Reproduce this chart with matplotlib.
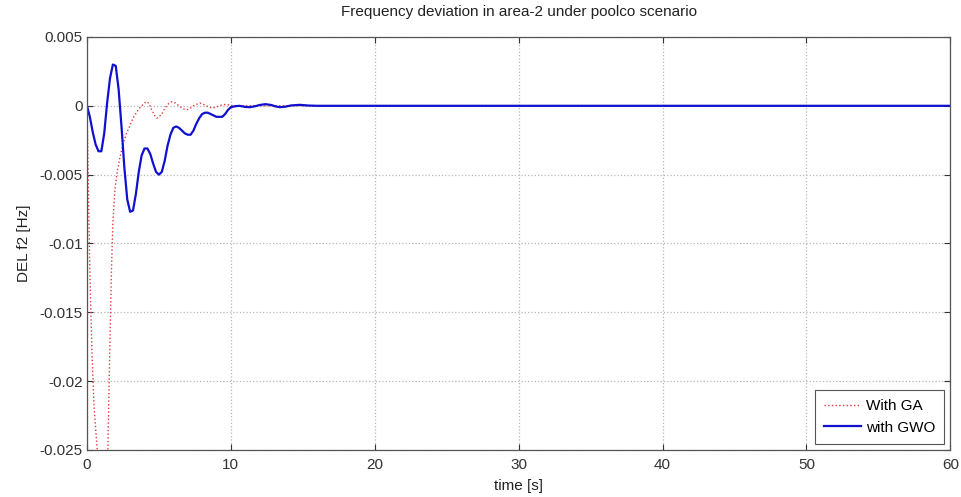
import matplotlib
matplotlib.use('Agg')
import matplotlib.pyplot as plt
import numpy as np

# time [s] and frequency deviation [Hz]
t_ga = [0.0, 0.1, 0.2, 0.35, 0.5, 0.75, 1.0, 1.2, 1.45, 1.6, 1.7, 1.8, 1.95,
        2.1, 2.3, 2.5, 2.75, 3.0, 3.25, 3.5, 3.7, 3.9, 4.1, 4.3, 4.5, 4.7,
        4.85, 5.0, 5.2, 5.4, 5.6, 5.9, 6.15, 6.4, 6.65, 6.9, 7.15, 7.4, 7.6,
        7.85, 8.1, 8.3, 8.5, 8.7, 8.95, 9.2, 9.45, 9.7, 10.0, 10.5, 11.0, 60.0]
f2_ga = [0.0, -0.006, -0.012, -0.018, -0.022, -0.0255, -0.028, -0.028, -0.025,
         -0.017, -0.012, -0.0085, -0.006, -0.0048, -0.0037, -0.0028, -0.002,
         -0.0014, -0.0008, -0.0004, -0.0001, 0.0001, 0.0003, 0.0002, -0.0003,
         -0.0007, -0.0009, -0.0008, -0.0006, -0.0002, 0.0001, 0.0003, 0.0002,
         0.0, -0.0002, -0.0003, -0.0002, 0.0, 0.0001, 0.0002, 0.0001, 0.0,
         -0.0001, -0.00017, -0.0001, 0.0, 0.00008, 0.0001, 0.00003, 0.0, 0.0, 0.0]

t_gwo = [0.0, 0.2, 0.4, 0.6, 0.8, 1.0, 1.2, 1.4, 1.6, 1.8, 2.0, 2.2, 2.4, 2.6,
         2.8, 3.0, 3.2, 3.4, 3.6, 3.8, 4.0, 4.2, 4.4, 4.6, 4.8, 5.0, 5.2, 5.4,
         5.6, 5.8, 6.0, 6.2, 6.4, 6.6, 6.8, 7.0, 7.2, 7.4, 7.6, 7.8, 8.0, 8.2,
         8.4, 8.6, 8.8, 9.0, 9.2, 9.4, 9.6, 9.8, 10.0, 10.3, 10.6, 11.0, 11.3,
         11.7, 12.0, 12.4, 12.8, 13.1, 13.4, 13.8, 14.2, 14.8, 15.4, 16.0, 60.0]
f2_gwo = [0.0, -0.0008, -0.0019, -0.0028, -0.0033, -0.0033, -0.002, 0.0002,
          0.002, 0.003, 0.0029, 0.0012, -0.0015, -0.0045, -0.0068, -0.0077,
          -0.0076, -0.0064, -0.0048, -0.0036, -0.0031, -0.0031, -0.0035,
          -0.0042, -0.0048, -0.005, -0.0048, -0.004, -0.0029, -0.0021,
          -0.0016, -0.0015, -0.0016, -0.0018, -0.002, -0.0021, -0.0021,
          -0.0018, -0.0013, -0.0009, -0.0006, -0.0005, -0.0005, -0.0006,
          -0.0007, -0.0008, -0.0008, -0.0008, -0.0006, -0.0003, -0.0001,
          -0.00003, 0.0, -0.00008, -0.0001, -0.00003, 0.00006, 0.00012,
          0.00006, -0.00004, -0.0001, -0.00006, 0.00003, 0.00007, 0.00002,
          0.0, 0.0]

xticks = [0, 10, 20, 30, 40, 50, 60]
yticks = [-0.025, -0.02, -0.015, -0.01, -0.005, 0, 0.005]
ytick_labels = ['-0.025', '-0.02', '-0.015', '-0.01', '-0.005', '0', '0.005']

plt.rcParams['font.family'] = ['Liberation Sans', 'DejaVu Sans']
plt.rcParams['font.size'] = 11

fig = plt.figure(figsize=(9.62, 4.97), dpi=100)
ax = fig.add_axes([0.0904, 0.0946, 0.8975, 0.831])

ax.plot(t_ga, f2_ga, color='#e03c3c', linestyle=':', linewidth=1.0, label='With GA')
ax.plot(t_gwo, f2_gwo, color='#1010d0', linestyle='-', linewidth=1.6, label='with GWO')

ax.set_xlim(0, 60)
ax.set_ylim(-0.025, 0.005)
ax.set_xticks(xticks)
ax.set_yticks(yticks)
ax.set_yticklabels(ytick_labels)

ax.grid(True, color='#b8b8b8', linestyle=':', linewidth=0.9)
ax.tick_params(direction='in', top=True, right=True, colors='#333333', length=4,
               labelsize=11, pad=3)
ax.tick_params(axis='x', pad=6)
for s in ax.spines.values():
    s.set_color('#555555')
    s.set_linewidth(0.9)

ax.set_title('Frequency deviation in area-2 under poolco scenario', fontsize=11,
             color='#222222', pad=15)
ax.set_xlabel('time [s]', fontsize=11, color='#222222', labelpad=5)
ax.set_ylabel('DEL f2 [Hz]', fontsize=11, color='#222222', labelpad=6)

leg = ax.legend(loc='lower right', fontsize=11, fancybox=False, framealpha=1,
                edgecolor='#555555', borderaxespad=0.4, handlelength=2.4,
                handletextpad=0.3, borderpad=0.6)
leg.get_frame().set_linewidth(0.8)

fig.savefig('out.png', dpi=100)
